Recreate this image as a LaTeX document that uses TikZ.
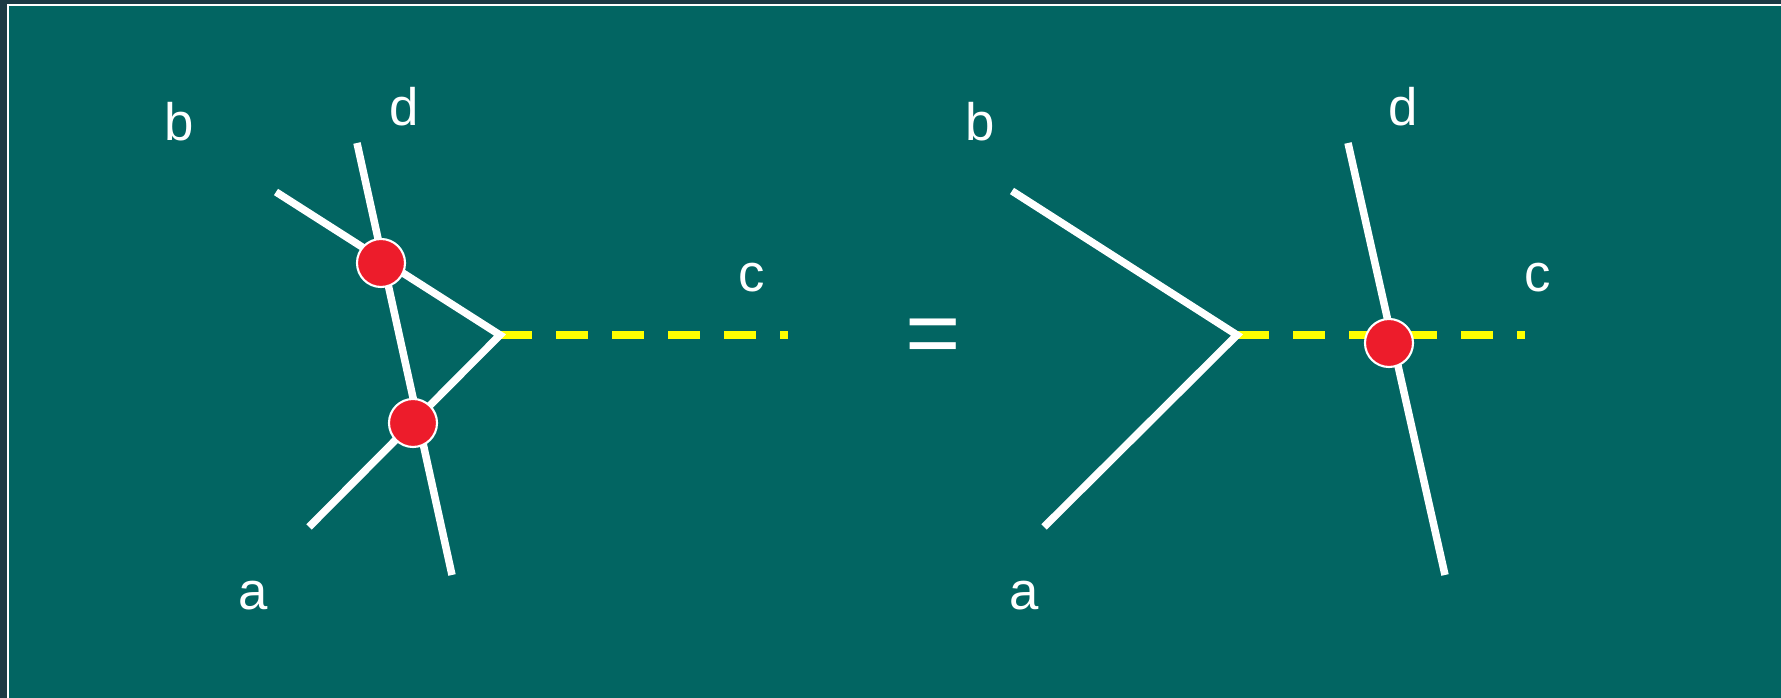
\documentclass[tikz,border=0pt]{standalone}
\usepackage{fontspec}
\setmainfont{Liberation Sans}
\definecolor{outerbg}{HTML}{1C3A44}
\definecolor{teal}{HTML}{026562}
\definecolor{dotred}{HTML}{ED1C2B}
\definecolor{lineyel}{HTML}{FFFF00}
\tikzset{
  wline/.style={draw=white, line width=0.075cm, line cap=butt, miter limit=10},
  yline/.style={draw=lineyel, line width=0.08cm, line cap=butt, dash pattern=on 0.32cm off 0.24cm},
  vdot/.style={circle, fill=dotred, draw=white, line width=0.6pt, minimum size=0.48cm, inner sep=0pt},
  lbl/.style={text=white, font=\fontsize{15}{15}\selectfont, anchor=base, inner sep=0pt},
  eqsign/.style={text=white, font=\fontsize{27}{27}\selectfont, inner sep=0pt}
}
\begin{document}
\begin{tikzpicture}[x=0.01cm, y=-0.01cm]
\useasboundingbox (0,0) rectangle (1781,698);
\clip (0,0) rectangle (1781,698);
\fill[outerbg] (0,0) rectangle (1781,698);
\filldraw[fill=teal, draw=white, line width=0.02cm] (8,5.5) rectangle (1800,720);

% left diagram
\coordinate (Lb) at (276,192);
\coordinate (Lv) at (500,335);
\coordinate (La) at (309,527);
\coordinate (Ld1) at (357,143);
\coordinate (Ld2) at (452,575);
\coordinate (Lc) at (788,335);
\draw[yline] (Lv) -- (Lc);
\draw[wline] (Lb) -- (Lv) -- (La);
\draw[wline] (Ld1) -- (Ld2);
\node[vdot] (Ldot1) at (381,263) {};
\node[vdot] (Ldot2) at (413,423) {};
\node[lbl] (Llb) at (179,141) {b};
\node[lbl] (Lld) at (404,126) {d};
\node[lbl] (Llc) at (752,292) {c};
\node[lbl] (Lla) at (253,610) {a};

% equals
\node[eqsign] (eq) at (933,342) {=};

% right diagram
\coordinate (Rb) at (1012,191);
\coordinate (Rv) at (1237,335);
\coordinate (Ra) at (1044,527);
\coordinate (Rd1) at (1348,143);
\coordinate (Rd2) at (1445,575);
\coordinate (Rc) at (1525,335);
\draw[yline] (Rv) -- (Rc);
\draw[wline] (Rb) -- (Rv) -- (Ra);
\draw[wline] (Rd1) -- (Rd2);
\node[vdot] (Rdot) at (1389,343) {};
\node[lbl] (Rlb) at (980,141) {b};
\node[lbl] (Rld) at (1403,126) {d};
\node[lbl] (Rlc) at (1538,292) {c};
\node[lbl] (Rla) at (1024,610) {a};
\end{tikzpicture}
\end{document}
